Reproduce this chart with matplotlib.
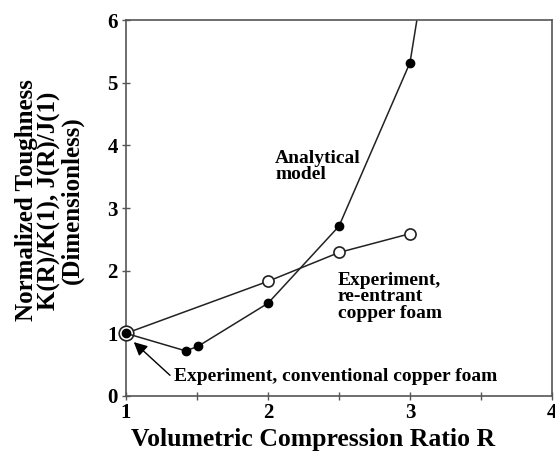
import numpy as np
import matplotlib
matplotlib.use("Agg")
import matplotlib.pyplot as plt

# analytical model (filled dots); tail only carries the line off the top
model_R = [1.0, 1.42, 1.505, 2.0, 2.5, 3.0]
model_T = [1.0, 0.72, 0.79, 1.48, 2.71, 5.32]
model_tail_R = [3.0, 3.07]
model_tail_T = [5.32, 6.3]

# experiment, re-entrant copper foam (open circles)
exp_R = [1.0, 2.0, 2.5, 3.0]
exp_T = [1.0, 1.83, 2.29, 2.59]

# conventional foam point
conv_R = [1.0]
conv_T = [1.0]

xticks = [1, 2, 3, 4]
yticks = [0, 1, 2, 3, 4, 5, 6]

plt.rcParams['font.family'] = ['Liberation Serif', 'DejaVu Serif']
plt.rcParams['font.weight'] = 'bold'

fig = plt.figure(figsize=(5.55, 4.58), dpi=100)
ax = fig.add_axes([0.227, 0.1354, 0.7676, 0.8209])

ax.plot(model_tail_R, model_tail_T, color='#222222', lw=1.1, zorder=2)
ax.plot(exp_R, exp_T, color='#222222', lw=1.1, marker='o', ms=8,
        mfc='white', mec='#222222', mew=1.2, zorder=3)
ax.plot(conv_R, conv_T, ls='none', marker='o', ms=10.5,
        mfc='white', mec='#222222', mew=1.2, zorder=4, clip_on=False)
ax.plot(model_R, model_T, color='#222222', lw=1.1, marker='o', ms=6,
        mfc='black', mec='black', zorder=5, clip_on=False)

ax.set_xlim(1, 4)
ax.set_ylim(0, 6)
ax.set_xticks(xticks)
ax.set_xticks([1.5, 2.5, 3.5], minor=True)
ax.set_yticks(yticks)
ax.tick_params(axis='both', which='major', labelsize=15, length=6, width=1,
               direction='inout', color='#555555')
ax.tick_params(axis='x', which='minor', length=6, width=1, direction='inout',
               color='#555555')
ax.tick_params(axis='x', which='major', pad=2)
ax.tick_params(axis='y', which='major', pad=3)
for lab in ax.get_xticklabels() + ax.get_yticklabels():
    lab.set_fontweight('bold')
for s in ax.spines.values():
    s.set_color('#555555')
    s.set_linewidth(1.2)

ax.set_xlabel('Volumetric Compression Ratio R', fontsize=18.5, fontweight='bold')
ax.xaxis.set_label_coords(0.44, -0.085)
ax.set_ylabel('Normalized Toughness\nK(R)/K(1), J(R)/J(1)\n(Dimensionless)',
              fontsize=18, fontweight='bold', linespacing=0.95)
ax.yaxis.set_label_coords(-0.10, 0.52)

ax.text(2.05, 3.93, 'Analytical\nmodel', fontsize=14, fontweight='bold',
        ha='left', va='top', linespacing=0.95)
ax.text(2.49, 1.98, 'Experiment,\nre-entrant\ncopper foam', fontsize=14,
        fontweight='bold', ha='left', va='top', linespacing=0.95)
ax.text(1.335, 0.31, 'Experiment, conventional copper foam', fontsize=14,
        fontweight='bold', ha='left', va='center')
ax.annotate('', xy=(1.055, 0.86), xytext=(1.31, 0.33),
            arrowprops=dict(arrowstyle='-|>', color='black', lw=1.0,
                            mutation_scale=20, shrinkA=0, shrinkB=0))

plt.savefig('out.png', dpi=100)
